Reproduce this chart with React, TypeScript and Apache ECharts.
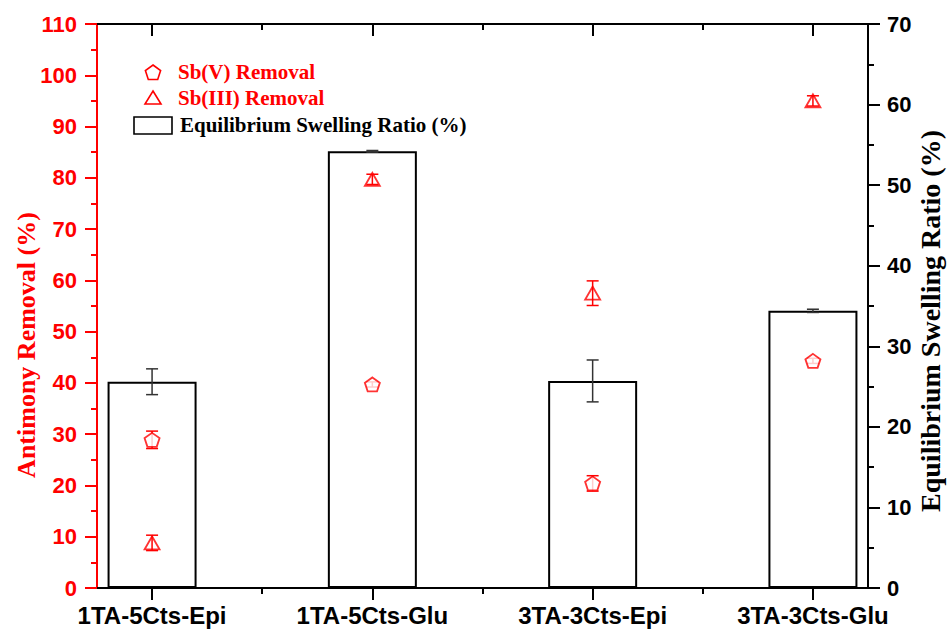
import React, { useEffect, useRef } from "react";
import * as echarts from "echarts";

const categories = ["1TA-5Cts-Epi", "1TA-5Cts-Glu", "3TA-3Cts-Epi", "3TA-3Cts-Glu"];
const swelling = [25.6, 54.2, 25.7, 34.4];
const swellingErr = [1.6, 0.1, 2.6, 0.2];
const sbV = [28.9, 39.7, 20.4, 44.3];
const sbVErr = [1.7, 0.5, 1.5, 0.5];
const sbIII = [8.8, 79.7, 57.5, 95.0];
const sbIIIErr = [1.5, 1.0, 2.4, 1.0];
const leftTicks = { min: 0, max: 110, interval: 10 };
const rightTicks = { min: 0, max: 70, interval: 10 };

const RED = "#ff0000";
const SANS = "Arial, 'Liberation Sans', sans-serif";
const SERIF = "'Times New Roman', 'Liberation Serif', serif";
const PENT = "path://M50,0 L97.6,34.5 L79.4,90.5 L20.6,90.5 L2.4,34.5 Z";
const TRI = "path://M50,0 L100,87 L0,87 Z";

const pos = (i: number) => i + 1;

function errSeries(name: string, vals: number[], errs: number[], color: string, yIdx: number, z: number) {
  return {
    name,
    type: "custom",
    xAxisIndex: 0,
    yAxisIndex: yIdx,
    z,
    data: vals.map((v, i) => [pos(i), v, errs[i]]),
    renderItem: (_p: any, api: any) => {
      const x = api.value(0), y = api.value(1), e = api.value(2);
      const a = api.coord([x, y + e]);
      const b = api.coord([x, y - e]);
      const w = 6;
      const style = { stroke: color, lineWidth: 1.5 };
      return {
        type: "group",
        children: [
          { type: "line", shape: { x1: a[0], y1: a[1], x2: b[0], y2: b[1] }, style },
          { type: "line", shape: { x1: a[0] - w, y1: a[1], x2: a[0] + w, y2: a[1] }, style },
          { type: "line", shape: { x1: b[0] - w, y1: b[1], x2: b[0] + w, y2: b[1] }, style },
        ],
      };
    },
  };
}

function pentPoints(cx: number, cy: number, r: number) {
  const pts: number[][] = [];
  for (let k = 0; k < 5; k++) {
    const ang = (-90 + 72 * k) * Math.PI / 180;
    pts.push([cx + r * Math.cos(ang), cy + r * Math.sin(ang)]);
  }
  return pts;
}

export default function App() {
  const ref = useRef<HTMLDivElement>(null);
  useEffect(() => {
    if (!ref.current) return;
    const chart = echarts.init(ref.current, undefined, { renderer: "svg" });
    const major = [1, 2, 3, 4];
    const minor = [1.5, 2.5, 3.5];
    const baseX = (position: string, ticks: number[], len: number, inside: boolean, showLine: boolean, labels: boolean) => ({
      type: "value",
      position,
      min: 0.75,
      max: 4.25,
      axisLine: { show: showLine, onZero: false, lineStyle: { color: "#000", width: 2 } },
      axisTick: { show: true, customValues: ticks, length: len, inside, lineStyle: { color: "#000", width: 2 } },
      axisLabel: labels
        ? {
            show: true,
            customValues: major,
            formatter: (v: number) => categories[Math.round(v) - 1] ?? "",
            color: "#000",
            fontSize: 24,
            fontWeight: "bold",
            fontFamily: SANS,
            margin: 15,
          }
        : { show: false },
      splitLine: { show: false },
    });
    const yAx = (position: string, t: any, color: string, margin: number) => ({
      type: "value",
      position,
      min: t.min,
      max: t.max,
      interval: t.interval,
      axisLine: { show: true, lineStyle: { color, width: 2 } },
      axisTick: { show: true, length: 12, lineStyle: { color, width: 2 } },
      minorTick: { show: true, splitNumber: 2, length: 6, lineStyle: { color, width: 2 } },
      axisLabel: { color, fontSize: 22, fontWeight: "bold", fontFamily: SANS, margin },
      splitLine: { show: false },
      minorSplitLine: { show: false },
    });
    const option: any = {
      animation: false,
      backgroundColor: "#fff",
      grid: { left: 97, right: 83, top: 24, bottom: 42, containLabel: false },
      xAxis: [
        baseX("bottom", major, 12, false, true, true),
        baseX("bottom", minor, 6, false, false, false),
        baseX("top", major, 12, true, true, false),
        baseX("top", minor, 6, true, false, false),
      ],
      yAxis: [yAx("left", leftTicks, RED, 20), yAx("right", rightTicks, "#000", 19)],
      series: [
        {
          name: "Equilibrium Swelling Ratio (%)",
          type: "bar",
          xAxisIndex: 0,
          yAxisIndex: 1,
          barWidth: 89,
          z: 1,
          data: swelling.map((v, i) => [pos(i), v]),
          itemStyle: { color: "rgba(255,255,255,0)", borderColor: "#000", borderWidth: 2 },
        },
        errSeries("swErr", swelling, swellingErr, "#333", 1, 2),
        errSeries("vErr", sbV, sbVErr, RED, 0, 3),
        errSeries("iiiErr", sbIII, sbIIIErr, RED, 0, 3),
        {
          name: "Sb(V) Removal",
          type: "scatter",
          xAxisIndex: 0,
          yAxisIndex: 0,
          z: 4,
          symbol: PENT,
          symbolSize: [15, 14],
          data: sbV.map((v, i) => [pos(i), v]),
          itemStyle: { color: "#fff", borderColor: RED, borderWidth: 1.8 },
        },
        {
          name: "Sb(III) Removal",
          type: "scatter",
          xAxisIndex: 0,
          yAxisIndex: 0,
          z: 4,
          symbol: TRI,
          symbolSize: [15, 13],
          data: sbIII.map((v, i) => [pos(i), v]),
          itemStyle: { color: "rgba(255,255,255,0)", borderColor: RED, borderWidth: 1.8 },
        },
      ],
      graphic: [
        {
          type: "polygon",
          shape: { points: pentPoints(153, 73, 8) },
          style: { fill: "none", stroke: RED, lineWidth: 1.6 },
        },
        {
          type: "polygon",
          shape: { points: [[153, 91], [161, 104], [145, 104]] },
          style: { fill: "none", stroke: RED, lineWidth: 1.6 },
        },
        {
          type: "rect",
          shape: { x: 134, y: 117, width: 38, height: 17 },
          style: { fill: "none", stroke: "#000", lineWidth: 1.6 },
        },
        {
          type: "text",
          x: 178,
          y: 72,
          style: { text: "Sb(V) Removal", fill: RED, font: `bold 21px ${SERIF}`, verticalAlign: "middle" },
        },
        {
          type: "text",
          x: 178,
          y: 98,
          style: { text: "Sb(III) Removal", fill: RED, font: `bold 21px ${SERIF}`, verticalAlign: "middle" },
        },
        {
          type: "text",
          x: 180,
          y: 125,
          style: { text: "Equilibrium Swelling Ratio (%)", fill: "#000", font: `bold 21px ${SERIF}`, verticalAlign: "middle" },
        },
        {
          type: "text",
          x: 26,
          y: 345,
          rotation: Math.PI / 2,
          style: { text: "Antimony Removal (%)", fill: RED, font: `bold 26px ${SERIF}`, align: "center", verticalAlign: "middle" },
        },
        {
          type: "text",
          x: 930,
          y: 321,
          rotation: Math.PI / 2,
          style: { text: "Equilibrium Swelling Ratio (%)", fill: "#000", font: `bold 28px ${SERIF}`, align: "center", verticalAlign: "middle" },
        },
      ],
    };
    chart.setOption(option);
    return () => chart.dispose();
  }, []);
  return <div ref={ref} style={{ width: 951, height: 630, position: "absolute", left: 0, top: 0 }} />;
}
